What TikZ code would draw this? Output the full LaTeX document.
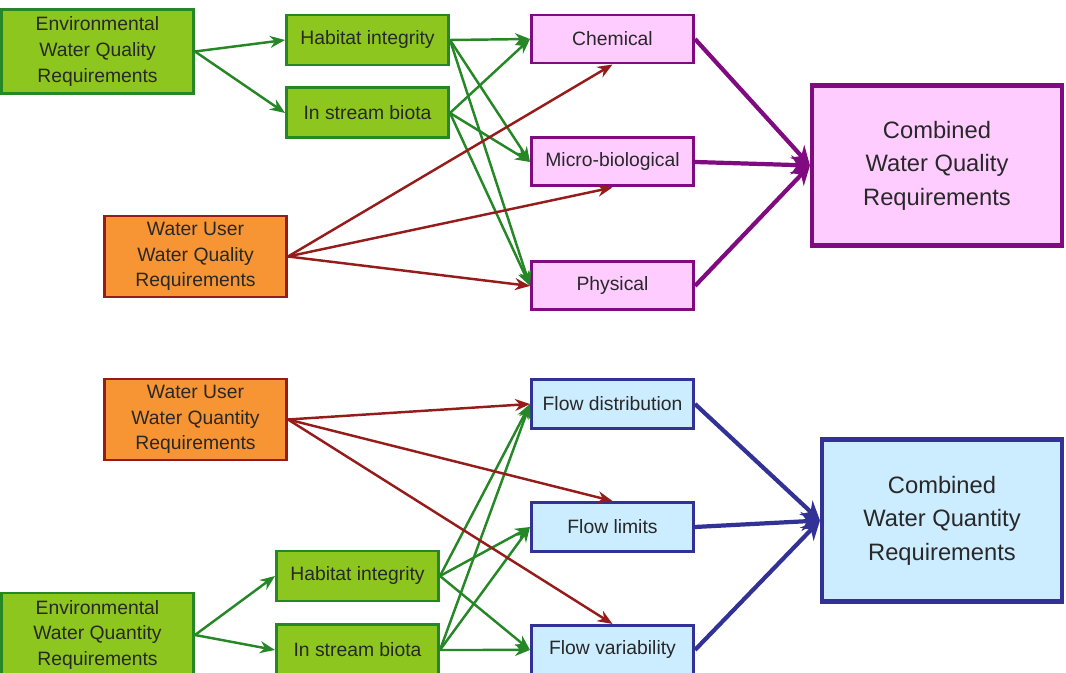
\documentclass[tikz,border=0pt]{standalone}
\usepackage{fontspec}
\setmainfont{Liberation Sans}
\usepackage{xcolor}
\usepackage{tikz}
\usetikzlibrary{arrows.meta, positioning}

\definecolor{envgreen}{RGB}{140,198,30}
\definecolor{envline}{RGB}{38,135,38}
\definecolor{userorange}{RGB}{247,148,52}
\definecolor{userline}{RGB}{150,28,28}
\definecolor{qualpink}{RGB}{255,204,255}
\definecolor{qualline}{RGB}{128,10,128}
\definecolor{quantblue}{RGB}{204,236,255}
\definecolor{quantline}{RGB}{50,50,150}
\definecolor{textgrey}{RGB}{40,40,40}

\begin{document}
\begin{tikzpicture}[
  box/.style={rectangle, line width=1.7pt, align=center, inner sep=2pt, text=textgrey,
              font=\fontsize{11}{14.6}\selectfont},
  envbox/.style={box, draw=envline, fill=envgreen, minimum width=3.84cm, minimum height=1.68cm},
  subbox/.style={box, draw=envline, fill=envgreen, minimum width=3.24cm, minimum height=1.0cm},
  userbox/.style={box, draw=userline, fill=userorange, minimum width=3.64cm, minimum height=1.62cm},
  qualbox/.style={box, draw=qualline, fill=qualpink, minimum width=3.24cm, minimum height=0.96cm},
  quantbox/.style={box, draw=quantline, fill=quantblue, minimum width=3.24cm, minimum height=0.98cm},
  combbox/.style={box, line width=2.3pt, font=\fontsize{13.5}{19}\selectfont},
  envarrow/.style={-{Stealth[length=3mm, width=2.4mm]}, line width=1.4pt, draw=envline},
  userarrow/.style={-{Stealth[length=3mm, width=2.4mm]}, line width=1.4pt, draw=userline},
  qualarrow/.style={-{Stealth[length=3.8mm, width=3.8mm]}, line width=2.4pt, draw=qualline},
  quantarrow/.style={-{Stealth[length=3.8mm, width=3.8mm]}, line width=2.4pt, draw=quantline}
]
\useasboundingbox (0,0) rectangle (21.32,-13.46);

% water quality
\node[envbox] (envqual) at (1.95,-1.03) {Environmental\\Water Quality\\Requirements};
\node[subbox] (habqual) at (7.35,-0.8) {Habitat integrity};
\node[subbox, below=0.4cm of habqual] (bioqual) {In stream biota};
\node[userbox] (userqual) at (3.91,-5.13) {Water User\\Water Quality\\Requirements};

\node[qualbox] (chem) at (12.25,-0.78) {Chemical};
\node[qualbox, below=1.44cm of chem] (micro) {Micro-biological};
\node[qualbox, below=1.46cm of micro] (phys) {Physical};
\node[combbox, draw=qualline, fill=qualpink, minimum width=5.0cm, minimum height=3.2cm]
  (combqual) at (18.74,-3.31) {Combined\\Water Quality\\Requirements};

% water quantity
\node[userbox] (userquant) at (3.91,-8.39) {Water User\\Water Quantity\\Requirements};
\node[subbox] (habquant) at (7.15,-11.52) {Habitat integrity};
\node[subbox, below=0.42cm of habquant] (bioquant) {In stream biota};
\node[envbox] (envquant) at (1.95,-12.7) {Environmental\\Water Quantity\\Requirements};

\node[quantbox] (dist) at (12.25,-8.08) {Flow distribution};
\node[quantbox, below=1.42cm of dist] (limits) {Flow limits};
\node[quantbox, below=1.42cm of limits] (var) {Flow variability};
\node[combbox, draw=quantline, fill=quantblue, minimum width=4.8cm, minimum height=3.24cm]
  (combquant) at (18.84,-10.41) {Combined\\Water Quantity\\Requirements};

\draw[envarrow] (envqual.east) -- (habqual.west);
\draw[envarrow] (envqual.east) -- (bioqual.west);
\foreach \src in {habqual, bioqual}
  \foreach \dst in {chem, micro, phys}
    \draw[envarrow] (\src.east) -- (\dst.west);
\draw[userarrow] (userqual.east) -- (chem.south);
\draw[userarrow] (userqual.east) -- (micro.south);
\draw[userarrow] (userqual.east) -- (phys.west);
\foreach \src in {chem, micro, phys}
  \draw[qualarrow] (\src.east) -- (combqual.west);

\draw[envarrow] (envquant.east) -- (habquant.west);
\draw[envarrow] (envquant.east) -- (bioquant.west);
\foreach \src in {habquant, bioquant}
  \foreach \dst in {dist, limits, var}
    \draw[envarrow] (\src.east) -- (\dst.west);
\draw[userarrow] (userquant.east) -- (dist.west);
\draw[userarrow] (userquant.east) -- (limits.north);
\draw[userarrow] (userquant.east) -- (var.north);
\foreach \src in {dist, limits, var}
  \draw[quantarrow] (\src.east) -- (combquant.west);
\end{tikzpicture}
\end{document}
